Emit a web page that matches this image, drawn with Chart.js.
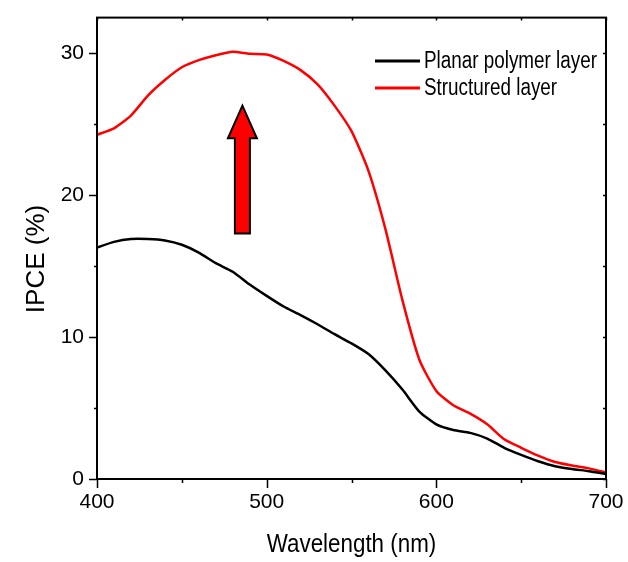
<!DOCTYPE html>
<html>
<head>
<meta charset="utf-8">
<script src="https://cdn.jsdelivr.net/npm/chart.js@4.4.1/dist/chart.umd.min.js"></script>
<style>
  html, body { margin: 0; padding: 0; background: #fff; }
  #wrap { width: 628px; height: 562px; }
</style>
</head>
<body>
<div id="wrap"><canvas id="ipceChart" width="628" height="562"></canvas></div>
<script>
const FONT = "'Liberation Sans', Arial, sans-serif";

// wavelength (nm)
const wavelengths = [400, 410, 420, 430, 440, 450, 460, 470, 480, 490, 500, 510, 520, 530, 540, 550,
  560, 570, 580, 590, 600, 610, 620, 630, 640, 650, 660, 670, 680, 690, 700];

// IPCE (%)
const planarIpce = [16.3, 16.7, 16.9, 16.9, 16.8, 16.5, 15.95, 15.2, 14.6, 13.7, 12.9, 12.15, 11.55, 10.9, 10.2, 9.55,
  8.8, 7.65, 6.3, 4.75, 3.85, 3.45, 3.25, 2.85, 2.2, 1.7, 1.25, 0.9, 0.7, 0.55, 0.35];
const structuredIpce = [24.25, 24.7, 25.6, 27.0, 28.1, 29.0, 29.5, 29.85, 30.1, 29.95, 29.9, 29.45, 28.8, 27.8, 26.3, 24.5,
  21.7, 17.6, 12.6, 8.4, 6.2, 5.2, 4.6, 3.85, 2.8, 2.2, 1.65, 1.2, 0.95, 0.75, 0.45];

const seriesLabels = ['Planar polymer layer', 'Structured layer'];
const seriesColors = ['#000000', '#ff0000'];

// arrow annotation, in data units: [x, tail y, head base y, tip y]
const arrowAt = [485.7, 17.3, 24.0, 26.3];

const xTicks = [400, 500, 600, 700];
const yTicks = [0, 10, 20, 30];

function toPoints(ys) {
  return wavelengths.map((w, i) => ({ x: w, y: ys[i] }));
}

// text squeezed horizontally (the original figure is a bit narrow)
function narrowText(ctx, text, x, y, size, squeeze) {
  ctx.save();
  ctx.translate(x, y);
  ctx.scale(squeeze, 1);
  ctx.font = size + 'px ' + FONT;
  ctx.fillText(text, 0, 0);
  ctx.restore();
}

// frame, ticks, legend, arrow and titles
const decor = {
  id: 'decor',
  afterDatasetsDraw(chart) {
    const { ctx, chartArea: a, scales } = chart;
    const x = scales.x, y = scales.y;
    ctx.save();

    // arrow
    const ax = x.getPixelForValue(arrowAt[0]);
    const shaft = 7.5, head = 14.5;
    const yTail = y.getPixelForValue(arrowAt[1]);
    const yBase = y.getPixelForValue(arrowAt[2]);
    const yTip = y.getPixelForValue(arrowAt[3]);
    ctx.beginPath();
    ctx.moveTo(ax - shaft, yTail);
    ctx.lineTo(ax - shaft, yBase);
    ctx.lineTo(ax - head, yBase);
    ctx.lineTo(ax, yTip);
    ctx.lineTo(ax + head, yBase);
    ctx.lineTo(ax + shaft, yBase);
    ctx.lineTo(ax + shaft, yTail);
    ctx.closePath();
    ctx.fillStyle = '#ff0000';
    ctx.fill();
    ctx.lineWidth = 2;
    ctx.strokeStyle = '#000';
    ctx.stroke();

    // frame
    ctx.lineWidth = 2;
    ctx.strokeRect(a.left, a.top, a.right - a.left, a.bottom - a.top);

    // ticks
    ctx.lineWidth = 1.5;
    ctx.beginPath();
    x.ticks.forEach(t => {
      const px = Math.round(x.getPixelForValue(t.value)) + 0.5;
      const major = xTicks.includes(t.value);
      ctx.moveTo(px, a.bottom);
      ctx.lineTo(px, a.bottom + (major ? 9 : 4));
      ctx.moveTo(px, a.top);
      ctx.lineTo(px, a.top + 3);
    });
    y.ticks.forEach(t => {
      const py = Math.round(y.getPixelForValue(t.value)) + 0.5;
      const major = yTicks.includes(t.value);
      ctx.moveTo(a.left, py);
      ctx.lineTo(a.left - (major ? 8 : 3), py);
      ctx.moveTo(a.right, py);
      ctx.lineTo(a.right - 3, py);
    });
    ctx.stroke();

    // legend
    ctx.textBaseline = 'middle';
    ctx.textAlign = 'left';
    chart.data.datasets.forEach((ds, i) => {
      const ly = 61 + i * 27;
      ctx.beginPath();
      ctx.lineWidth = 3;
      ctx.strokeStyle = ds.borderColor;
      ctx.moveTo(375, ly);
      ctx.lineTo(420, ly);
      ctx.stroke();
      ctx.fillStyle = '#000';
      narrowText(ctx, ds.label, 424, ly + 1, 23, 0.82);
    });

    // x axis title
    ctx.textAlign = 'center';
    ctx.textBaseline = 'alphabetic';
    narrowText(ctx, 'Wavelength (nm)', (a.left + a.right) / 2, 552, 26, 0.86);

    // y axis title
    ctx.translate(37, 259);
    ctx.rotate(-Math.PI / 2);
    ctx.textBaseline = 'middle';
    ctx.font = '26px ' + FONT;
    ctx.fillText('IPCE (%)', 0, 0);
    ctx.restore();
  }
};

new Chart(document.getElementById('ipceChart'), {
  type: 'line',
  data: {
    datasets: [{
      label: seriesLabels[0],
      data: toPoints(planarIpce),
      borderColor: seriesColors[0],
      backgroundColor: seriesColors[0],
      borderWidth: 2.5,
      pointRadius: 0,
      tension: 0.2
    }, {
      label: seriesLabels[1],
      data: toPoints(structuredIpce),
      borderColor: seriesColors[1],
      backgroundColor: seriesColors[1],
      borderWidth: 2.5,
      pointRadius: 0,
      tension: 0.2
    }]
  },
  options: {
    responsive: false,
    animation: false,
    layout: { padding: { left: 0, top: 9, right: 22, bottom: 0 } },
    plugins: {
      legend: { display: false },
      tooltip: { enabled: false }
    },
    scales: {
      x: {
        type: 'linear',
        min: 400,
        max: 700,
        grid: { drawOnChartArea: false, tickLength: 9, tickColor: 'transparent' },
        border: { display: false },
        ticks: {
          stepSize: 50,
          maxRotation: 0,
          padding: 2,
          color: '#000',
          font: { family: FONT, size: 21 },
          callback: v => xTicks.includes(v) ? v : ''
        },
        afterFit: s => { s.height = 83; }
      },
      y: {
        min: 0,
        max: 32.5,
        grid: { drawOnChartArea: false, tickLength: 8, tickColor: 'transparent' },
        border: { display: false },
        ticks: {
          stepSize: 5,
          includeBounds: false,
          padding: 5,
          color: '#000',
          font: { family: FONT, size: 21 },
          callback: v => yTicks.includes(v) ? v : ''
        },
        afterFit: s => { s.width = 97; }
      }
    }
  },
  plugins: [decor]
});
</script>
</body>
</html>
